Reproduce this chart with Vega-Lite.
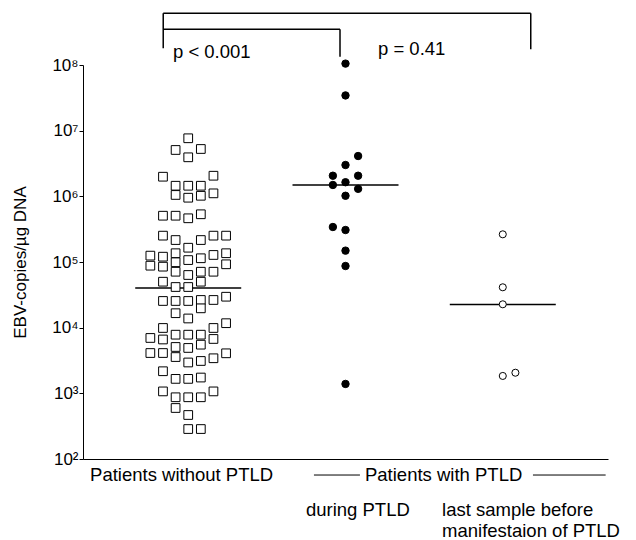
{
  "$schema": "https://vega.github.io/schema/vega-lite/v6.json",
  "width": 525,
  "height": 394,
  "autosize": {"type": "none"},
  "padding": {"left": 83, "top": 65, "right": 28, "bottom": 81},
  "background": "white",
  "config": {
    "view": {"stroke": null},
    "font": "Liberation Sans",
    "axis": {"grid": false, "domainColor": "black", "tickColor": "black", "labelColor": "black", "titleColor": "black"}
  },
  "datasets": {
    "points": [
      {"group": "Patients without PTLD", "col": 0, "value": 7660000},
      {"group": "Patients without PTLD", "col": -1, "value": 5080000},
      {"group": "Patients without PTLD", "col": 1, "value": 5260000},
      {"group": "Patients without PTLD", "col": 0, "value": 3930000},
      {"group": "Patients without PTLD", "col": -2, "value": 1990000},
      {"group": "Patients without PTLD", "col": 2, "value": 2060000},
      {"group": "Patients without PTLD", "col": -1, "value": 1450000},
      {"group": "Patients without PTLD", "col": 0, "value": 1450000},
      {"group": "Patients without PTLD", "col": 1, "value": 1450000},
      {"group": "Patients without PTLD", "col": -1, "value": 1050000},
      {"group": "Patients without PTLD", "col": 0, "value": 953000},
      {"group": "Patients without PTLD", "col": 1, "value": 1020000},
      {"group": "Patients without PTLD", "col": 2, "value": 1110000},
      {"group": "Patients without PTLD", "col": -2, "value": 507000},
      {"group": "Patients without PTLD", "col": -1, "value": 507000},
      {"group": "Patients without PTLD", "col": 0, "value": 463000},
      {"group": "Patients without PTLD", "col": 1, "value": 533000},
      {"group": "Patients without PTLD", "col": -2, "value": 252000},
      {"group": "Patients without PTLD", "col": -1, "value": 216000},
      {"group": "Patients without PTLD", "col": 0, "value": 165000},
      {"group": "Patients without PTLD", "col": 1, "value": 216000},
      {"group": "Patients without PTLD", "col": 2, "value": 252000},
      {"group": "Patients without PTLD", "col": 3, "value": 252000},
      {"group": "Patients without PTLD", "col": -3, "value": 125000},
      {"group": "Patients without PTLD", "col": -3, "value": 87900},
      {"group": "Patients without PTLD", "col": -2, "value": 120500},
      {"group": "Patients without PTLD", "col": -2, "value": 84900},
      {"group": "Patients without PTLD", "col": -1, "value": 136000},
      {"group": "Patients without PTLD", "col": -1, "value": 99100},
      {"group": "Patients without PTLD", "col": -1, "value": 71100},
      {"group": "Patients without PTLD", "col": 0, "value": 107000},
      {"group": "Patients without PTLD", "col": 0, "value": 63400},
      {"group": "Patients without PTLD", "col": 1, "value": 114000},
      {"group": "Patients without PTLD", "col": 1, "value": 71100},
      {"group": "Patients without PTLD", "col": 1, "value": 50100},
      {"group": "Patients without PTLD", "col": 2, "value": 128000},
      {"group": "Patients without PTLD", "col": 2, "value": 71100},
      {"group": "Patients without PTLD", "col": 3, "value": 136000},
      {"group": "Patients without PTLD", "col": 3, "value": 92300},
      {"group": "Patients without PTLD", "col": -2, "value": 50100},
      {"group": "Patients without PTLD", "col": -1, "value": 41600},
      {"group": "Patients without PTLD", "col": 0, "value": 41600},
      {"group": "Patients without PTLD", "col": -2, "value": 25500},
      {"group": "Patients without PTLD", "col": -1, "value": 25500},
      {"group": "Patients without PTLD", "col": 0, "value": 25500},
      {"group": "Patients without PTLD", "col": 1, "value": 26400},
      {"group": "Patients without PTLD", "col": 2, "value": 26400},
      {"group": "Patients without PTLD", "col": 3, "value": 29600},
      {"group": "Patients without PTLD", "col": 1, "value": 19700},
      {"group": "Patients without PTLD", "col": -1, "value": 16600},
      {"group": "Patients without PTLD", "col": 0, "value": 13800},
      {"group": "Patients without PTLD", "col": -2, "value": 9890},
      {"group": "Patients without PTLD", "col": 2, "value": 9890},
      {"group": "Patients without PTLD", "col": 3, "value": 11700},
      {"group": "Patients without PTLD", "col": -3, "value": 6970},
      {"group": "Patients without PTLD", "col": -2, "value": 6610},
      {"group": "Patients without PTLD", "col": -1, "value": 7820},
      {"group": "Patients without PTLD", "col": 0, "value": 7820},
      {"group": "Patients without PTLD", "col": 1, "value": 7820},
      {"group": "Patients without PTLD", "col": 2, "value": 6730},
      {"group": "Patients without PTLD", "col": 1, "value": 5510},
      {"group": "Patients without PTLD", "col": -1, "value": 5080},
      {"group": "Patients without PTLD", "col": 0, "value": 4910},
      {"group": "Patients without PTLD", "col": -3, "value": 4110},
      {"group": "Patients without PTLD", "col": -2, "value": 4110},
      {"group": "Patients without PTLD", "col": -1, "value": 3570},
      {"group": "Patients without PTLD", "col": 0, "value": 2950},
      {"group": "Patients without PTLD", "col": 1, "value": 3110},
      {"group": "Patients without PTLD", "col": 2, "value": 3420},
      {"group": "Patients without PTLD", "col": 3, "value": 4070},
      {"group": "Patients without PTLD", "col": -2, "value": 2170},
      {"group": "Patients without PTLD", "col": -1, "value": 1660},
      {"group": "Patients without PTLD", "col": 0, "value": 1660},
      {"group": "Patients without PTLD", "col": 1, "value": 1740},
      {"group": "Patients without PTLD", "col": -2, "value": 1070},
      {"group": "Patients without PTLD", "col": -1, "value": 871},
      {"group": "Patients without PTLD", "col": 0, "value": 871},
      {"group": "Patients without PTLD", "col": 1, "value": 871},
      {"group": "Patients without PTLD", "col": 2, "value": 1070},
      {"group": "Patients without PTLD", "col": -1, "value": 598},
      {"group": "Patients without PTLD", "col": 0, "value": 468},
      {"group": "Patients without PTLD", "col": 0, "value": 286},
      {"group": "Patients without PTLD", "col": 1, "value": 286},
      {"group": "during PTLD", "col": 0, "value": 105000000},
      {"group": "during PTLD", "col": 0, "value": 34400000},
      {"group": "during PTLD", "col": 1, "value": 4110000},
      {"group": "during PTLD", "col": 0, "value": 3000000},
      {"group": "during PTLD", "col": -1, "value": 2060000},
      {"group": "during PTLD", "col": 1, "value": 2060000},
      {"group": "during PTLD", "col": -1, "value": 1490000},
      {"group": "during PTLD", "col": 0, "value": 1640000},
      {"group": "during PTLD", "col": 1, "value": 1300000},
      {"group": "during PTLD", "col": 0, "value": 1020000},
      {"group": "during PTLD", "col": -1, "value": 341000},
      {"group": "during PTLD", "col": 0, "value": 307000},
      {"group": "during PTLD", "col": 0, "value": 149000},
      {"group": "during PTLD", "col": 0, "value": 86900},
      {"group": "during PTLD", "col": 0, "value": 1390},
      {"group": "last sample before PTLD", "col": 0, "value": 264000},
      {"group": "last sample before PTLD", "col": 0, "value": 41200},
      {"group": "last sample before PTLD", "col": 0, "value": 22700},
      {"group": "last sample before PTLD", "col": 0, "value": 1840},
      {"group": "last sample before PTLD", "col": 1, "value": 2060}
    ],
    "medians": [
      {"group": "Patients without PTLD", "value": 40200},
      {"group": "during PTLD", "value": 1490000},
      {"group": "last sample before PTLD", "value": 22500}
    ],
    "brackets": [
      {"ax": 0.842, "ax2": 3.183, "y": 612000000, "y2": 612000000},
      {"ax": 0.842, "ax2": 1.968, "y": 350000000, "y2": 350000000},
      {"ax": 0.842, "ax2": 0.842, "y": 612000000, "y2": 180000000},
      {"ax": 1.968, "ax2": 1.968, "y": 350000000, "y2": 134000000},
      {"ax": 3.183, "ax2": 3.183, "y": 612000000, "y2": 173000000}
    ],
    "spanlines": [
      {"ax": 1.802, "ax2": 2.095, "y": 57},
      {"ax": 3.197, "ax2": 3.66, "y": 57}
    ],
    "labels": [
      {"ax": 0.904, "y": 158000000, "label": "p < 0.001"},
      {"ax": 2.21, "y": 175000000, "label": "p = 0.41"},
      {"ax": 0.376, "y": 57, "label": "Patients without PTLD"},
      {"ax": 2.127, "y": 57, "label": "Patients with PTLD"},
      {"ax": 1.751, "y": 16.7, "label": "during PTLD"},
      {"ax": 2.618, "y": 16.7, "label": "last sample before"},
      {"ax": 2.618, "y": 8.02, "label": "manifestaion of PTLD"}
    ]
  },
  "layer": [
    {
      "layer": [
        {
          "data": {"name": "medians"},
          "mark": {"type": "tick", "orient": "horizontal", "size": 106, "thickness": 1.6, "color": "black", "opacity": 1},
          "encoding": {
            "x": {"field": "group", "type": "nominal",
              "scale": {"type": "band", "domain": ["Patients without PTLD", "during PTLD", "last sample before PTLD"], "paddingInner": 0, "paddingOuter": 0.169},
              "axis": {"title": null, "labels": false, "ticks": false, "domain": true, "domainColor": "black", "domainWidth": 1}},
            "y": {"field": "value", "type": "quantitative",
              "scale": {"type": "log", "domain": [100, 100000000], "nice": false},
              "axis": {
                "values": [100, 1000, 10000, 100000, 1000000, 10000000, 100000000],
                "labelExpr": "'10' + ['⁰','¹','²','³','⁴','⁵','⁶','⁷','⁸'][round(log(datum.value)/LN10)]",
                "labelFontSize": 17,
                "labelFont": "Liberation Sans",
                "tickSize": 4,
                "labelPadding": 1,
                "title": "EBV-copies/µg DNA",
                "titleFont": "Liberation Sans",
                "titleFontSize": 17,
                "titleFontWeight": "normal",
                "titlePadding": 22
              }}
          }
        },
        {
          "data": {"name": "points"},
          "transform": [{"filter": "datum.group === 'Patients without PTLD'"}],
          "mark": {"type": "point", "shape": "square", "size": 76, "filled": true, "fill": "white", "stroke": "black", "strokeWidth": 1, "opacity": 1},
          "encoding": {
            "x": {"field": "group", "type": "nominal"},
            "xOffset": {"field": "col", "type": "quantitative", "scale": {"domain": [-6.23, 6.23], "nice": false, "zero": false}},
            "y": {"field": "value", "type": "quantitative"}
          }
        },
        {
          "data": {"name": "points"},
          "transform": [{"filter": "datum.group === 'during PTLD'"}],
          "mark": {"type": "point", "shape": "circle", "size": 55, "filled": true, "fill": "black", "stroke": "black", "strokeWidth": 1, "opacity": 1},
          "encoding": {
            "x": {"field": "group", "type": "nominal"},
            "xOffset": {"field": "col", "type": "quantitative"},
            "y": {"field": "value", "type": "quantitative"}
          }
        },
        {
          "data": {"name": "points"},
          "transform": [{"filter": "datum.group === 'last sample before PTLD'"}],
          "mark": {"type": "point", "shape": "circle", "size": 50, "filled": true, "fill": "white", "stroke": "black", "strokeWidth": 1, "opacity": 1},
          "encoding": {
            "x": {"field": "group", "type": "nominal"},
            "xOffset": {"field": "col", "type": "quantitative"},
            "y": {"field": "value", "type": "quantitative"}
          }
        }
      ]
    },
    {
      "layer": [
        {
          "data": {"name": "brackets"},
          "mark": {"type": "rule", "color": "black", "strokeWidth": 1.5},
          "encoding": {
            "x": {"field": "ax", "type": "quantitative", "scale": {"domain": [0.331, 3.675], "nice": false, "zero": false}, "axis": null},
            "x2": {"field": "ax2"},
            "y": {"field": "y", "type": "quantitative"},
            "y2": {"field": "y2"}
          }
        },
        {
          "data": {"name": "spanlines"},
          "mark": {"type": "rule", "color": "black", "strokeWidth": 1},
          "encoding": {
            "x": {"field": "ax", "type": "quantitative"},
            "x2": {"field": "ax2"},
            "y": {"field": "y", "type": "quantitative"}
          }
        },
        {
          "data": {"name": "labels"},
          "mark": {"type": "text", "align": "left", "baseline": "middle", "fontSize": 18.5, "font": "Liberation Sans", "color": "black"},
          "encoding": {
            "x": {"field": "ax", "type": "quantitative"},
            "y": {"field": "y", "type": "quantitative"},
            "text": {"field": "label"}
          }
        }
      ]
    }
  ],
  "resolve": {"scale": {"x": "independent"}}
}
